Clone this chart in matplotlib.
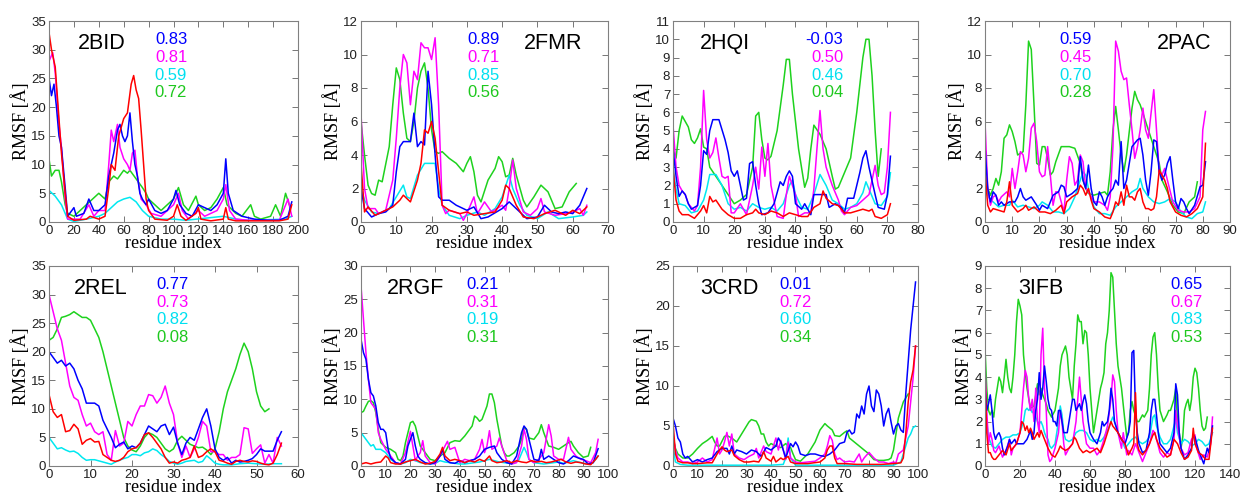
import matplotlib
matplotlib.use("Agg")
import matplotlib.pyplot as plt

# ---------------- data (residue index, RMSF) ----------------
# 2BID
bid_green = [(0,11),(2,8),(5,9),(8,9),(10,7),(13,3),(15,1.5),(20,1),(25,2),(30,3),(35,4),(40,5),(45,4),(48,7),(52,8),(55,7.5),(60,9),(63,8.5),(65,9),(70,7.5),(75,6),(78,5),(80,4),(85,3),(90,2),(95,3),(100,4),(104,6),(108,3),(112,2),(118,4.5),(120,3),(125,2),(130,2.5),(135,4),(140,6),(143,3),(150,1.5),(155,1),(162,3),(165,1),(170,0.5),(178,1),(182,3),(186,1),(190,5),(193,3)]
bid_cyan = [(0,5.5),(5,4.5),(10,3),(15,0.5),(20,0.1),(30,0.5),(40,1),(45,1.5),(50,2.5),(55,3.5),(60,4),(65,4.3),(70,3.5),(75,2),(80,1),(90,0.5),(100,0.5),(110,0.3),(140,1),(150,0.5),(160,0.3),(190,0.5),(195,1)]
bid_magenta = [(0,28),(3,29.5),(5,26),(8,17),(10,13),(13,4),(15,0.5),(20,0.5),(25,0.5),(32,3),(36,1),(40,2),(45,2),(48,10),(50,16),(52,14),(55,17),(57,13),(60,11),(63,10),(65,9),(67,12),(69,12.5),(71,8),(74,4),(78,3),(82,1.5),(90,1),(100,3),(104,5),(107,2),(112,0.5),(120,2),(125,1),(135,2),(140,4),(142,6.5),(145,2),(150,0.5),(160,0.3),(175,0.3),(185,0.3),(192,4),(195,1)]
bid_blue = [(0,25),(2,22),(4,24),(6,20),(8,15),(10,13),(13,6),(15,1),(20,2.5),(22,1),(28,1.5),(32,4),(36,2),(40,2),(45,3),(48,8),(50,10),(52,12),(55,16),(57,17),(59,15),(61,14),(63,15),(65,19),(67,14),(69,10),(71,8),(73,5),(75,4),(78,3),(80,4),(85,2),(90,1.5),(95,2),(100,4),(102,5.5),(105,3),(110,1.5),(115,1),(120,3),(125,2.5),(130,2),(135,3),(140,5),(142,11),(144,5),(148,2),(155,1),(165,0.5),(175,0.3),(185,0.3),(192,1),(195,3.5)]
bid_red = [(0,33),(2,30),(5,27),(8,18),(10,12),(13,5),(15,1),(20,0.3),(30,0.5),(33,1),(40,0.5),(45,1),(48,6),(50,10),(53,9),(56,15),(60,18),(63,19),(66,24),(68,25.5),(70,23),(72,21.5),(74,16),(76,10),(78,4),(80,2),(85,0.5),(95,0.3),(100,1),(103,3),(106,1),(110,0.3),(118,1.5),(120,2.5),(122,0.5),(130,0.2),(140,0.5),(142,2.5),(144,0.5),(150,0.2),(170,0.2),(185,0.2),(192,0.5),(195,3)]

# 2FMR
fmr_green = [(0,6),(1,4),(2,2.2),(3,1.7),(4,1.6),(5,2.5),(6,2.4),(8,4.5),(9,7),(10,9.2),(11,8.5),(12,6.5),(13,5),(14,4.8),(15,6),(16,8),(17,9),(18,9.5),(19,8),(20,5.5),(21,4.2),(22,4.1),(23,4.2),(25,3.8),(27,3.5),(29,3),(30,3.5),(31,3.9),(32,3),(33,1.6),(34,1.2),(36,2.5),(38,3.2),(39,3.9),(40,3.6),(41,2.7),(42,2.8),(43,3.8),(44,2.8),(46,1.3),(47,0.9),(49,1.5),(51,2.2),(53,1.8),(55,0.8),(57,0.9),(59,1.8),(61,2.3)]
fmr_cyan = [(0,2),(1,1.3),(3,0.6),(5,0.5),(8,0.8),(10,1.5),(12,2.2),(13,1.5),(14,1.4),(16,2.8),(18,3.5),(21,3.5),(22,2),(23,1),(25,0.4),(28,0.2),(30,0.4),(33,0.6),(35,0.4),(38,0.8),(40,1.5),(42,2.8),(43,2),(45,1),(47,0.4),(50,0.2),(53,0.6),(56,0.2),(60,0.3),(63,0.4),(64,0.6)]
fmr_magenta = [(0,6.5),(1,2),(2,0.8),(4,0.8),(5,0.5),(7,0.7),(9,2.5),(10,5),(11,8),(12,10),(13,9.5),(14,7),(15,9),(16,8.5),(17,10.7),(18,10.4),(19,10.4),(20,9.7),(21,11),(22,7),(23,1),(24,0.5),(25,0.7),(28,0.5),(29,0.1),(30,0.5),(32,1.5),(33,0.5),(35,1.2),(37,0.6),(40,1),(41,0.7),(42,2),(43,3.7),(44,2),(46,0.6),(48,0.4),(50,0.8),(51,1.4),(52,0.6),(55,0.4),(58,0.5),(60,0.6),(62,0.8),(63,0.4),(64,1)]
fmr_blue = [(0,2),(1,0.8),(3,0.3),(5,0.5),(7,0.6),(9,1),(10,3),(11,4.5),(12,4.8),(14,4.8),(15,6.5),(16,4.5),(17,4.8),(18,4.6),(19,9),(20,7),(21,4),(22,1.5),(23,1.3),(25,1.3),(27,1),(30,0.7),(32,0.9),(34,0.2),(36,0.3),(40,0.8),(42,1.2),(44,0.8),(47,0.2),(50,0.3),(52,1),(54,0.6),(56,0.5),(58,0.6),(60,0.5),(62,1),(64,2)]
fmr_red = [(0,3.5),(1,0.6),(2,0.9),(4,0.4),(6,0.6),(9,0.9),(11,1.3),(12,1.6),(14,1.2),(16,2.5),(17,3.5),(18,5.5),(19,5.3),(20,6),(21,5),(22,3),(23,1),(25,0.7),(28,0.5),(30,0.6),(32,0.4),(35,0.5),(38,0.6),(40,1.3),(41,2.2),(42,2),(44,1),(46,0.3),(49,0.2),(52,0.5),(55,0.7),(58,0.4),(60,0.7),(62,0.5),(64,0.9)]

# 2HQI
hqi_green = [(0,4),(1,3.5),(2,5),(3,5.8),(4,5.5),(5,5.2),(6,4.5),(7,4.3),(8,4.6),(9,5.1),(10,4.1),(11,4),(12,3),(14,2.5),(16,2),(18,1.5),(20,1),(22,1.2),(24,1.5),(26,3),(27,5.8),(28,6),(29,4.5),(30,3.5),(31,3.4),(32,3.6),(34,5),(36,7.5),(37,8.9),(38,8.9),(39,7),(41,4),(43,1.9),(44,2.4),(45,4),(46,5.3),(48,4.8),(50,4),(52,2.5),(53,1.8),(54,1.9),(56,2.7),(58,3.5),(60,6),(62,9),(63,10),(64,10),(65,8),(66,5),(67,2.5),(68,4)]
hqi_cyan = [(0,3),(1,1.8),(2,1),(4,0.9),(6,0.5),(8,0.6),(10,1.2),(11,1.8),(12,2.6),(14,2.6),(16,2),(18,1),(20,0.7),(22,0.8),(24,0.6),(26,1),(28,0.8),(30,0.7),(32,0.8),(34,0.6),(36,1),(38,2),(39,2.3),(40,1.5),(42,0.8),(44,0.7),(46,1.5),(48,2.6),(50,2),(52,1.2),(54,1),(56,0.7),(58,0.8),(60,1),(62,1.6),(63,2.2),(64,1.8),(66,1),(68,0.9),(70,1.4),(71,2.7)]
hqi_magenta = [(0,5.3),(1,3),(2,2),(3,1.7),(4,1.5),(5,1),(7,0.6),(8,0.9),(9,3),(10,7.2),(11,4.5),(12,3.5),(13,3.8),(14,4.6),(15,3.5),(16,2.5),(17,2.4),(18,2.5),(19,0.5),(20,0.5),(22,1),(24,0.4),(26,2),(27,3),(28,1.8),(29,4.1),(30,2.5),(31,4.3),(32,2),(34,0.3),(36,0.2),(37,1.5),(38,2.5),(40,1.5),(41,0.3),(43,0.5),(45,0.5),(46,1.8),(47,4),(48,6.1),(49,4),(50,3),(51,2.5),(52,2),(54,1.2),(55,0.6),(56,0.4),(58,0.8),(60,0.9),(62,1.2),(64,1.5),(66,3.1),(67,2),(68,1.5),(69,1.6),(70,3),(71,6)]
hqi_blue = [(0,4),(1,2.5),(2,1.4),(3,1.7),(4,1.5),(5,1),(6,0.7),(8,0.9),(9,2),(10,3.9),(11,3.7),(12,5),(13,5.6),(15,5.6),(17,4.5),(18,3.8),(19,2.8),(20,2.5),(21,2.8),(22,2),(23,1.2),(24,1.3),(25,3.2),(26,3.3),(27,2),(28,1),(29,0.4),(31,0.5),(33,1),(35,2.2),(36,2),(37,2.5),(38,2.8),(39,2.5),(40,1),(42,0.7),(43,1),(45,0.4),(46,1.5),(48,1.5),(50,1.5),(51,0.8),(53,1),(55,0.8),(56,0.5),(57,1.3),(59,1.3),(60,2),(61,2.7),(62,3.5),(63,3.9),(64,3),(66,1.5),(67,0.8),(69,0.7),(70,1.5),(71,3.6)]
hqi_red = [(0,3),(1,1.2),(2,0.6),(3,0.4),(5,0.4),(7,0.2),(9,0.6),(10,0.9),(11,0.5),(12,1.4),(13,1.1),(14,1.2),(16,0.7),(18,0.4),(20,0.2),(22,0.2),(24,0.4),(26,0.5),(27,0.7),(28,0.5),(30,0.4),(32,0.6),(34,0.5),(36,0.3),(38,0.5),(40,0.4),(42,0.3),(44,0.3),(46,0.8),(48,1),(49,1.7),(50,1.3),(52,1),(54,0.9),(56,0.5),(58,0.5),(60,0.6),(62,0.7),(64,0.6),(65,0.7),(66,0.3),(68,0.2),(70,0.4),(71,1)]

# 2PAC
pac_green = [(0,3),(1,2),(2,1.6),(3,2),(4,2.6),(5,2.2),(6,3),(7,5),(8,5.2),(9,5.8),(10,5.4),(11,4.8),(12,4),(14,4.2),(15,7),(16,10.8),(17,10.3),(18,7),(19,3.5),(20,3.4),(21,4.5),(22,4.5),(23,3.8),(24,2.8),(25,3),(26,3.6),(28,4.5),(31,4.5),(33,4.4),(35,3.5),(36,2.5),(37,2),(38,1.7),(40,1.6),(42,1.7),(44,1.8),(45,1.6),(46,3),(47,5.5),(48,6.9),(49,5.5),(50,4),(51,3),(52,4),(54,6.8),(55,7.8),(56,7.3),(57,7),(58,6.5),(60,5.5),(62,4.5),(64,3.5),(65,2.5),(67,1.8),(69,1),(71,0.6),(73,0.5),(75,1.2),(77,1.5),(78,2.4)]
pac_cyan = [(0,3),(1,1.6),(2,1.3),(3,1.2),(5,0.9),(7,1),(9,1),(10,1.3),(12,0.9),(14,1),(16,0.9),(18,0.8),(20,1),(21,1.2),(23,1),(25,0.6),(27,0.6),(29,0.5),(31,0.8),(33,1.5),(35,2.5),(36,3),(37,2.8),(38,2),(40,0.9),(42,0.5),(44,0.5),(46,0.4),(48,0.9),(50,1.2),(52,1.5),(54,1.8),(56,2),(57,2.6),(58,2),(60,1.5),(62,1.2),(64,1.1),(66,1.2),(68,1.4),(70,1.2),(72,0.6),(74,0.3),(76,0.2),(78,0.5),(80,0.6),(81,1.2)]
pac_magenta = [(0,6),(1,2),(2,1),(3,1.5),(4,1.6),(5,1.2),(6,1.5),(8,1.8),(9,1.5),(10,3.2),(11,2),(12,3),(13,4.2),(14,4),(15,3),(16,3.8),(17,5.6),(18,5.9),(19,4.8),(20,3),(21,2.7),(22,2.8),(23,4.5),(24,2.8),(25,1),(26,1.8),(27,1.8),(28,1.2),(29,0.6),(30,2.5),(31,3.9),(32,3.5),(33,2.2),(34,2.5),(35,4),(36,3.6),(37,2),(38,1.8),(40,1.2),(42,1.2),(44,1),(45,0.7),(46,1.5),(47,4.5),(48,10.8),(49,10.2),(50,9),(51,8.5),(52,8.6),(53,7),(54,5.5),(55,3.8),(56,4.5),(57,5.5),(58,6.8),(59,5.5),(60,5),(61,6.5),(62,7.9),(63,5.5),(64,3),(65,2.8),(66,3.2),(67,2.5),(69,1.2),(71,0.7),(73,0.6),(75,0.6),(77,0.8),(79,1.5),(80,5.5),(81,6.6)]
pac_blue = [(0,4.5),(1,2),(2,1.2),(3,1.8),(4,1.6),(5,1),(6,1.2),(7,1),(9,1.2),(11,1.2),(12,1.5),(13,2),(14,1.5),(15,1.3),(17,1.5),(19,1),(20,0.7),(21,1),(23,0.8),(25,1.6),(27,1.8),(28,2.2),(29,2.1),(30,1.5),(32,1.7),(34,2),(35,3.9),(36,2.5),(37,2),(38,3.4),(39,2),(40,1.2),(41,1),(42,1.8),(43,1.5),(44,1),(45,1.5),(46,1.8),(47,2),(48,2.5),(49,2.2),(50,4.8),(51,2),(52,2.5),(53,3.5),(54,4.5),(56,4.9),(57,5),(58,4),(59,2.5),(60,1.6),(61,3),(62,4.9),(63,4.8),(64,3),(65,2.5),(66,2.8),(67,3.5),(68,3.9),(69,2.5),(70,1.2),(71,0.8),(72,1.4),(73,1.2),(74,0.8),(75,0.5),(77,1),(79,2.1),(80,2.2),(81,3.6)]
pac_red = [(0,3),(1,1),(2,0.6),(3,0.8),(5,0.7),(7,0.6),(8,1.2),(9,2.4),(10,1),(12,0.6),(14,0.8),(15,1),(16,0.7),(18,0.9),(20,0.6),(22,0.6),(24,0.5),(26,0.7),(28,1),(29,0.5),(30,1.2),(32,1.5),(34,1.7),(35,2.2),(36,2),(37,1.6),(38,2),(39,1.3),(40,0.8),(42,0.6),(44,0.3),(46,0.2),(47,0.6),(48,1.2),(49,1),(50,1.8),(51,1),(52,2.2),(53,1.5),(54,1.5),(55,1.3),(56,1.8),(57,2),(58,1.2),(59,0.8),(60,0.8),(61,0.7),(62,0.8),(63,1.5),(64,3.1),(65,2.8),(66,2.5),(67,2),(68,1.2),(70,0.6),(72,0.4),(74,0.3),(76,0.5),(78,0.8),(80,1.5),(81,4.7)]

# 2REL
rel_green = [(0,22),(1,22.5),(2,24),(3,26),(4,26.2),(5,26.5),(6,27),(7,26.5),(8,26),(9,26),(10,25.5),(11,24),(12,22.5),(13,20),(14,17),(15,14),(16,11),(17,8),(18,5),(19,3.5),(20,2.8),(21,2.5),(22,3.5),(23,5),(24,5.8),(25,5.5),(26,5),(27,4),(28,3),(29,2.5),(30,3),(31,4.5),(32,5.2),(33,4.5),(34,3.8),(35,3.5),(36,3.2),(37,3.3),(38,2.8),(39,2),(40,3),(41,6),(42,10),(43,13),(44,15),(45,17),(46,19.5),(47,21.5),(48,20),(49,17),(50,13),(51,10.5),(52,9.5),(53,10)]
rel_cyan = [(0,5),(1,4),(2,3),(3,3.2),(4,2.8),(5,2.5),(6,2.6),(7,2.2),(8,1.5),(9,1),(10,1.1),(11,1.1),(12,0.9),(13,0.7),(14,0.5),(15,0.3),(16,0.7),(17,1),(18,1.3),(19,1.5),(20,2),(21,2),(22,1.8),(23,2.3),(24,2.5),(25,3),(26,2.7),(27,2),(28,1.5),(29,0.8),(30,0.5),(31,0.3),(32,0.5),(33,0.8),(34,0.9),(35,1),(36,0.6),(37,0.8),(38,1.8),(39,1.2),(40,0.5),(41,0.3),(42,0.2),(44,0.2),(46,0.4),(48,0.5),(50,0.4),(52,0.3),(54,0.4),(56,0.4)]
rel_magenta = [(0,30),(1,27),(2,24),(3,22),(4,18),(5,14),(6,12),(7,11.5),(8,9),(9,7),(10,7.5),(11,6),(12,5.5),(13,6),(14,2),(15,1),(16,6.2),(17,3.5),(18,4),(19,7.8),(20,7),(21,9),(22,10.5),(23,10.5),(24,12.5),(25,12.3),(26,11),(27,12),(28,14),(29,11),(30,9),(31,4),(32,1.5),(33,3.5),(34,1.5),(35,3),(36,5),(37,7.8),(38,7),(39,2.5),(40,2.5),(41,2),(42,2),(43,1),(44,1.5),(45,1.5),(46,2),(47,6.7),(48,6.5),(49,2.2),(50,3),(51,3.7),(52,0.5),(53,2),(54,0.5),(55,5),(56,3.5)]
rel_blue = [(0,20),(1,19),(2,18),(3,18.5),(4,17.5),(5,18),(6,17),(7,15),(8,13.5),(9,11),(10,11),(11,11),(12,10.5),(13,8),(14,6.5),(15,5),(16,3.2),(17,3.8),(18,4.2),(19,3),(20,3.5),(21,3.2),(22,4),(23,5.5),(24,7),(25,6.5),(26,6),(27,7),(28,7.3),(29,5.5),(30,6.8),(31,4),(32,2),(33,4),(34,5),(35,4.5),(36,6.5),(37,8.5),(38,10),(39,7),(40,3),(41,1.5),(42,1),(43,1.5),(44,0.5),(45,1),(46,0.7),(47,0.8),(48,1),(49,1.3),(50,2),(51,3),(52,2.6),(53,2.6),(54,2.6),(55,4.5),(56,6)]
rel_red = [(0,12.5),(1,9.5),(2,8.5),(3,9),(4,6),(5,6.2),(6,7.3),(7,6.5),(8,3.8),(9,4.5),(10,4.8),(11,4.2),(12,4.3),(13,2),(14,1.5),(15,1),(16,0.8),(17,1),(18,1.5),(19,2.5),(20,3),(21,3.2),(22,4),(23,5.5),(24,5.8),(25,5),(26,4),(27,3),(28,1.5),(29,0.5),(30,0.7),(31,0.5),(32,1),(33,1.2),(34,1.5),(35,3.5),(36,1.5),(37,1.8),(38,2.5),(39,3),(40,2.5),(41,1),(42,0.8),(43,0.5),(44,0.3),(45,0.8),(46,1),(47,0.8),(48,0.7),(49,0.9),(50,0.8),(51,0.5),(52,0.3),(53,0.2),(54,0.5),(55,2),(56,4)]

# 2RGF
rgf_green = [(0,8),(1,8.2),(2,9),(3,9.7),(4,9.8),(5,9.5),(6,8),(7,5.5),(8,3.5),(10,2.8),(12,2.5),(14,2),(15,1),(16,0.8),(17,1.5),(18,3.5),(19,5),(20,6.5),(21,6.7),(22,6),(23,4.5),(24,3),(26,2),(28,1),(30,0.8),(32,1.5),(34,2),(36,3.5),(38,3.8),(40,3.7),(42,4.5),(44,5.5),(45,6),(46,7.5),(47,7.2),(48,6.7),(49,7),(50,8),(51,9),(52,10.8),(53,10.8),(54,9.5),(55,7),(56,5),(57,3),(58,2),(59,1.5),(60,1.5),(62,2),(64,3),(65,4),(66,5.8),(67,5.5),(68,4.2),(70,4),(72,5),(73,6.2),(74,5),(75,4),(76,3),(78,2.8),(80,2.5),(82,3),(84,3.5),(85,3.7),(86,3),(88,2),(90,1.3),(92,1.5),(93,2.8)]
rgf_cyan = [(0,5),(1,4.5),(2,4),(3,3.5),(4,3),(5,3.2),(6,2.5),(8,2.5),(10,2),(12,1),(14,0.5),(16,0.3),(18,0.5),(20,1),(22,0.8),(24,0.5),(26,0.4),(28,0.3),(30,0.4),(32,0.8),(34,0.6),(36,0.5),(38,0.4),(40,0.3),(42,0.3),(44,0.4),(46,0.5),(48,0.6),(50,0.8),(52,1),(54,0.8),(56,0.6),(58,0.5),(60,0.4),(62,0.4),(64,1),(66,2.8),(67,2),(68,1),(70,0.5),(72,0.4),(74,0.3),(76,0.4),(78,0.5),(80,0.6),(82,0.4),(84,0.6),(86,0.8),(88,0.6),(90,0.4),(92,0.3),(94,0.5),(96,1.5)]
rgf_magenta = [(0,27),(1,22),(2,17),(3,13),(4,9.5),(5,9),(6,8.5),(7,5),(8,4),(10,2.5),(12,1.5),(14,0.5),(16,0.3),(18,2),(20,5.2),(21,3),(22,0.8),(23,1.5),(24,2),(25,3.8),(26,1.5),(28,0.5),(30,0.3),(32,1.5),(34,3),(35,3.7),(36,2.5),(38,2.8),(40,0.5),(42,1),(44,0.8),(46,1),(48,2.5),(49,4),(50,2),(51,3),(52,5.3),(53,2.5),(55,3),(56,4.2),(57,3),(59,0.8),(61,0.3),(63,0.5),(65,3),(66,5.5),(67,4),(68,1),(70,0.5),(72,1),(74,2),(76,6.2),(77,4.5),(78,1.5),(80,1),(82,1),(84,4.3),(85,2.5),(87,1.5),(89,1),(91,0.8),(93,0.5),(95,2),(96,4)]
rgf_blue = [(0,19),(1,17),(2,16),(3,13),(4,11),(5,10.5),(6,9),(7,6.5),(8,5.5),(9,5.5),(10,5),(11,2.5),(12,1.2),(14,0.5),(16,0.3),(18,1),(19,3),(20,4),(21,5),(22,3),(23,1.5),(24,1),(26,0.5),(28,0.3),(30,0.5),(32,1.5),(33,2.5),(34,1),(36,0.5),(38,0.4),(40,0.8),(42,0.5),(44,0.8),(46,1),(48,1.5),(50,2.5),(52,2.8),(54,3),(55,2),(57,1),(59,0.5),(61,0.3),(63,1.5),(65,5),(66,6),(67,5.5),(68,4),(70,1),(72,0.8),(73,2.5),(74,1),(76,1.5),(78,1),(80,0.5),(82,0.3),(84,0.8),(86,1.5),(88,1.2),(90,1),(92,0.3),(94,0.5),(96,2.6)]
rgf_red = [(0,0.3),(2,0.5),(4,0.3),(6,0.5),(8,0.6),(10,1.5),(11,1.2),(12,0.5),(14,0.3),(16,0.3),(18,0.6),(20,0.8),(22,1),(24,0.6),(26,0.3),(28,0.4),(30,0.7),(32,1.8),(33,2.8),(34,1.5),(36,0.8),(38,1),(40,0.8),(42,0.5),(44,0.8),(46,0.6),(48,1),(50,0.7),(52,1.5),(53,0.8),(55,0.5),(57,0.6),(59,0.8),(61,0.5),(63,0.8),(65,0.6),(67,0.5),(69,0.8),(71,0.6),(73,0.7),(75,0.5),(77,0.6),(79,0.8),(81,1),(83,0.6),(85,0.4),(87,0.6),(89,0.5),(91,0.3),(93,0.2),(95,1),(96,1.5)]

# 3CRD
crd_green = [(0,3.5),(1,2.2),(2,1.5),(4,1),(6,1),(8,1.5),(10,2.2),(12,2.8),(14,3.2),(16,3.7),(17,3),(18,2.5),(19,2.5),(21,3.7),(22,3.8),(24,3.5),(26,3),(28,4),(30,5),(31,5.5),(32,5.8),(34,5.6),(35,5),(36,4),(37,4),(38,3),(39,2.5),(40,2.8),(42,2.5),(44,2.3),(46,2.8),(47,2.5),(48,2.3),(49,1.5),(50,0.8),(52,0.6),(55,1.5),(58,3),(60,4.5),(62,5.3),(63,5),(65,4.5),(66,3.8),(68,3.7),(70,4.2),(71,4.4),(72,3.5),(74,3),(76,2.5),(78,2),(80,1.5),(82,0.8),(84,0.7),(86,0.7),(88,0.8),(89,1),(90,2),(91,4),(92,6),(93,7),(94,8),(95,8.5),(96,9)]
crd_cyan = [(0,2.5),(1,0.5),(3,0.2),(6,0.1),(10,0.1),(20,0.1),(30,0.1),(40,0.1),(45,0.2),(46,1),(47,3.5),(48,1),(50,0.1),(60,0.1),(70,0.1),(80,0.1),(90,0.1),(93,0.5),(95,2.5),(96,3.5),(97,4),(98,4.8),(99,5)]
crd_magenta = [(0,4),(1,2),(2,1),(4,0.5),(6,0.5),(8,0.3),(10,0.5),(12,1),(14,0.5),(16,0.8),(18,3.5),(19,1.5),(20,2),(21,3),(22,4.2),(23,2.5),(24,4),(25,1.5),(27,1),(29,0.8),(31,1.2),(33,1.5),(34,2.2),(35,1),(37,2.5),(38,1.8),(40,1.5),(41,2.5),(42,3.5),(43,2),(44,3.2),(45,2),(46,0.8),(47,3),(48,1),(50,0.5),(52,0.4),(55,0.5),(58,0.6),(60,1),(62,1.5),(63,2.5),(64,3.8),(65,3.2),(66,1.5),(67,0.8),(68,1),(70,0.5),(72,0.6),(74,0.5),(76,1.5),(77,0.5),(78,1),(80,1.7),(82,1),(84,0.5),(86,0.5),(88,0.3),(90,0.5),(91,0.4),(92,1.5),(94,2),(95,3.5),(96,5),(97,8),(98,11),(99,15)]
crd_blue = [(0,6),(1,5),(2,3.5),(3,3),(4,1.5),(5,1),(6,1.2),(8,0.5),(10,0.8),(12,0.5),(14,0.8),(16,1),(18,1.8),(20,2.2),(22,2.2),(23,1.5),(24,2.5),(25,1.5),(26,2),(28,1.8),(30,1.5),(32,2),(34,1.8),(36,1.2),(38,2.3),(40,2),(42,2.5),(43,3.5),(44,3),(45,2),(46,1),(48,2.8),(49,2.4),(50,3),(51,2.5),(52,1.5),(54,1.3),(56,1.5),(58,1.5),(60,1.3),(62,1.2),(64,1.5),(66,2),(68,2.8),(70,3),(71,4.2),(72,4.5),(73,4),(74,4.2),(75,6.5),(76,6),(77,7.5),(78,6.5),(79,9),(80,10),(81,7.5),(82,6.8),(83,9.5),(84,9),(85,7.5),(86,5),(87,6.5),(88,7.2),(89,5.5),(90,4),(91,5),(92,5.3),(93,4.5),(94,4.2),(95,9),(96,13),(97,17),(98,20),(99,23)]
crd_red = [(0,5.5),(1,1.5),(2,0.6),(4,0.4),(6,0.4),(8,0.3),(10,0.3),(14,0.4),(16,0.4),(18,1.5),(19,2),(20,2.4),(21,2),(22,1.8),(24,2),(25,1.3),(27,0.8),(29,0.5),(31,0.5),(33,0.6),(35,0.5),(36,1),(37,1.8),(38,1),(40,0.6),(41,1.2),(42,0.5),(44,1),(45,0.8),(47,1.2),(48,0.5),(50,0.3),(55,0.3),(60,0.5),(62,1),(63,2),(64,2.5),(65,2.5),(66,1),(67,0.3),(70,0.3),(75,0.2),(80,0.2),(85,0.2),(90,0.3),(93,0.4),(94,1),(95,4),(96,8),(97,10.5),(98,12),(99,15)]

# 3IFB
ifb_green = [(0,5.3),(1,3.5),(2,2.5),(3,2.3),(4,2.5),(5,2.2),(6,3),(7,3.5),(8,4),(9,3.8),(10,3.3),(11,4),(12,4.8),(13,4),(14,3.5),(15,3.3),(16,4),(17,5),(18,6.5),(19,7.5),(20,7.2),(21,6.8),(22,5),(23,4.2),(24,3.5),(26,2.6),(28,2.7),(30,3.7),(31,3.2),(32,3.5),(33,3.2),(34,3),(35,2.8),(36,2.5),(38,2.2),(40,2.5),(42,3.5),(43,4.5),(44,5),(46,5.4),(47,5),(48,4),(50,3),(51,4.5),(52,5.5),(53,6.8),(54,6.5),(55,6.5),(56,5.5),(57,6.1),(58,6),(59,5),(60,3.5),(61,2.5),(62,1.5),(63,2),(64,2.5),(65,3),(66,3.5),(67,3.8),(68,4.2),(69,5.5),(70,6),(71,7),(72,8.7),(73,8.5),(74,7),(75,5.5),(76,4.5),(78,3.5),(80,2),(81,1.3),(82,1.5),(83,2.5),(84,2.9),(85,2.5),(87,2),(88,2),(90,2.3),(91,2.2),(93,2.5),(94,3.5),(95,5),(96,5.8),(97,6),(98,5),(99,3.5),(100,2.5),(102,2),(104,2.3),(105,2.5),(106,2.5),(108,3),(109,3.5),(110,2),(111,1.5),(112,0.8),(113,1.3),(114,2.5),(115,2.8),(116,3),(117,2.5),(118,3),(119,4),(120,4.4),(121,4.2),(122,3.5),(123,2.5),(124,1.8),(125,1.6),(126,1.7),(127,2.2)]
ifb_cyan = [(0,3.5),(1,2),(2,1.3),(4,0.9),(6,0.8),(8,1),(10,1.2),(12,1.3),(14,1.3),(16,1.4),(18,1.4),(20,1.5),(22,2),(23,2.5),(24,2.6),(25,2.5),(26,2.6),(27,2.4),(28,2.5),(29,2.2),(30,2),(31,1.9),(32,2),(33,1.8),(34,1.5),(35,1.3),(36,1.2),(37,0.9),(38,0.8),(40,1),(42,2),(43,2.7),(44,2.3),(45,1.5),(46,1.2),(48,1.1),(50,1.2),(52,1.5),(54,1.6),(56,1.6),(58,1.5),(60,1.2),(62,1.1),(64,1.2),(66,1.1),(68,1.3),(70,1.6),(72,2),(73,2.2),(74,2),(76,1.5),(78,1.2),(80,0.8),(82,1),(84,1.2),(86,1.3),(88,1.1),(90,1),(92,1.1),(94,1.3),(96,2.2),(97,2.3),(98,1.8),(100,1.3),(102,1),(104,1),(106,1.2),(108,1.8),(109,2.1),(110,1.5),(112,1),(114,1.2),(116,1.1),(118,0.9),(120,1),(122,1.2),(124,1.1),(126,0.9),(128,1),(130,1.5)]
ifb_magenta = [(0,4.5),(1,2.5),(2,1),(3,1.5),(4,1.2),(5,0.7),(6,0.6),(8,0.9),(10,0.4),(12,0.7),(14,1.2),(15,0.5),(16,0.8),(18,1),(20,1.5),(21,2.5),(22,3.5),(23,4.3),(24,4),(25,3),(26,2.5),(27,3),(28,2),(29,3.5),(30,2),(31,1.5),(32,5),(33,6.2),(34,3.5),(35,2.5),(36,0.5),(37,0.2),(38,0.3),(40,0.8),(42,1.5),(43,2.5),(44,2),(45,1),(46,0.5),(48,0.8),(50,1),(52,2),(53,3),(54,4),(55,3),(56,2),(57,1.5),(58,1),(60,0.8),(62,0.8),(64,0.5),(66,0.7),(68,1.2),(70,1.8),(72,3),(73,4.1),(74,3.8),(75,2.5),(76,1.5),(78,0.8),(79,1.5),(80,1),(81,0.5),(82,0.7),(84,0.5),(86,1),(88,0.6),(90,0.2),(92,0.6),(94,1),(96,1.6),(97,1.5),(98,1.2),(100,0.6),(102,0.4),(104,0.6),(106,0.5),(108,1.2),(109,2.5),(110,1.8),(112,0.8),(114,0.5),(116,0.6),(118,1.2),(120,1.4),(121,0.8),(123,0.3),(125,0.5),(127,0.4),(129,1),(130,2.2)]
ifb_blue = [(0,3.5),(1,2.5),(2,2.8),(3,3.2),(4,2.5),(5,1.5),(6,1.2),(7,1.4),(8,1.5),(9,1.3),(10,0.8),(11,0.5),(12,0.7),(13,0.9),(14,1.2),(15,1),(17,1.2),(18,1),(20,1),(22,1),(24,1.2),(26,1.6),(27,1.2),(28,1.5),(29,2.5),(30,3),(31,4.2),(32,3),(33,3.5),(34,4.5),(35,3.8),(36,3),(37,2.6),(38,2.5),(39,2),(40,2),(41,1.8),(42,2.5),(43,2.5),(44,2),(45,1.5),(47,1.5),(49,2.5),(50,3),(51,3),(52,2.5),(54,2.8),(55,2.5),(56,2.9),(57,3.2),(58,2.8),(59,2),(60,1.5),(62,1.2),(64,1),(66,1.5),(67,2),(68,1.8),(70,2),(71,2.5),(72,3.5),(73,3),(74,2),(76,1.5),(78,1.2),(80,1),(82,1.5),(83,2),(84,5.1),(85,5.2),(86,2.5),(87,1.5),(88,1),(90,0.6),(92,0.7),(94,1.5),(95,2.5),(96,3),(97,3),(98,2.3),(99,1.5),(100,1),(102,0.8),(104,0.6),(106,0.8),(108,1.5),(109,3.7),(110,3.2),(111,1.5),(112,0.8),(114,0.3),(116,0.5),(118,0.8),(119,1.4),(120,1.3),(122,0.7),(124,0.3),(125,0.1),(127,0.8),(128,0.6),(130,1.8)]
ifb_red = [(0,4.1),(1,1.5),(2,0.6),(3,0.6),(4,0.4),(5,0.3),(6,0.3),(8,0.5),(10,0.7),(12,0.5),(14,1),(15,0.7),(16,0.8),(18,1),(20,1.5),(21,2),(22,1.9),(23,1.6),(24,1.8),(25,1.5),(26,1.7),(27,1.5),(28,1.2),(30,1.5),(31,1.3),(32,1.6),(34,1.2),(36,0.8),(38,0.5),(40,0.4),(42,0.7),(43,0.9),(44,0.8),(46,0.7),(48,0.8),(50,1),(51,1.3),(52,1.2),(54,0.8),(56,0.6),(58,0.7),(60,0.6),(62,0.7),(64,0.8),(66,0.6),(68,1),(70,1.5),(72,2),(73,1.8),(74,1.7),(76,1.5),(78,1.2),(80,1),(82,0.5),(84,0.8),(85,1),(86,3.3),(87,1),(88,0.7),(90,0.5),(92,0.7),(94,1),(96,1.4),(97,1.5),(98,1.2),(100,0.8),(102,0.6),(104,0.4),(106,0.5),(108,1.2),(110,1),(112,0.6),(114,0.3),(116,0.4),(118,0.7),(119,1.7),(120,1),(122,0.6),(124,0.5),(126,0.3),(128,0.3),(130,1.7)]

# panel names, correlation values (blue, magenta, cyan, green), axis limits
names = ["2BID", "2FMR", "2HQI", "2PAC", "2REL", "2RGF", "3CRD", "3IFB"]
corr = [["0.83", "0.81", "0.59", "0.72"],
        ["0.89", "0.71", "0.85", "0.56"],
        ["-0.03", "0.50", "0.46", "0.04"],
        ["0.59", "0.45", "0.70", "0.28"],
        ["0.77", "0.73", "0.82", "0.08"],
        ["0.21", "0.31", "0.19", "0.31"],
        ["0.01", "0.72", "0.60", "0.34"],
        ["0.65", "0.67", "0.83", "0.53"]]
xmax = [200, 70, 80, 90, 60, 100, 100, 140]
xstep = [20, 10, 10, 10, 10, 10, 10, 20]
ymax = [35, 12, 11, 12, 35, 30, 25, 9]
ystep = [5, 2, 1, 2, 5, 5, 5, 1]

series = [
    [bid_green, bid_cyan, bid_magenta, bid_blue, bid_red],
    [fmr_green, fmr_cyan, fmr_magenta, fmr_blue, fmr_red],
    [hqi_green, hqi_cyan, hqi_magenta, hqi_blue, hqi_red],
    [pac_green, pac_cyan, pac_magenta, pac_blue, pac_red],
    [rel_green, rel_cyan, rel_magenta, rel_blue, rel_red],
    [rgf_green, rgf_cyan, rgf_magenta, rgf_blue, rgf_red],
    [crd_green, crd_cyan, crd_magenta, crd_blue, crd_red],
    [ifb_green, ifb_cyan, ifb_magenta, ifb_blue, ifb_red],
]

# ---------------- layout ----------------
W, H = 1243, 495
line_colors = ["#1ed21e", "#00e8f0", "#ff00ff", "#0000ff", "#ff0000"]
corr_colors = ["#0000ff", "#ff00ff", "#00e0f0", "#1ec81e"]
lefts = [49, 361, 673, 985]
widths = [249, 247, 245, 245]
rows = [(21, 222), (266, 466)]
name_x = [0.115, 0.66, 0.11, 0.70, 0.10, 0.105, 0.11, 0.135]
corr_x = [0.555, 0.56, 0.695, 0.435, 0.56, 0.558, 0.567, 0.89]

fig = plt.figure(figsize=(W / 100, H / 100), dpi=100)

for i in range(8):
    r, c = divmod(i, 4)
    top, bot = rows[r]
    ax = fig.add_axes([lefts[c] / W, 1 - bot / H, widths[c] / W, (bot - top) / H])
    for data, col in zip(series[i], line_colors):
        xs = [p[0] for p in data]
        ys = [p[1] for p in data]
        ax.plot(xs, ys, color=col, lw=1.1)
    ax.set_xlim(0, xmax[i])
    ax.set_ylim(0, ymax[i])
    ax.set_xticks(range(0, xmax[i] + 1, xstep[i]))
    ax.set_yticks(range(0, ymax[i] + 1, ystep[i]))
    ax.tick_params(direction="in", top=True, right=True, length=4, width=0.6,
                   color="#606060", labelsize=9.5, pad=2, labelcolor="#202020")
    for lab in ax.get_xticklabels() + ax.get_yticklabels():
        lab.set_fontfamily("Liberation Sans")
    for s in ax.spines.values():
        s.set_color("#808080")
        s.set_linewidth(0.8)
    ax.set_xlabel("residue index", family="Liberation Serif", fontsize=13, labelpad=-1)
    ax.set_ylabel("RMSF [Å]", family="Liberation Serif", fontsize=13, labelpad=1)
    ax.text(name_x[i], 0.89, names[i], transform=ax.transAxes, ha="left", va="center",
            family="Liberation Sans", fontsize=15.5)
    for k in range(4):
        ax.text(corr_x[i], 0.907 - k * 0.088, corr[i][k], transform=ax.transAxes,
                ha="right", va="center", color=corr_colors[k],
                family="Liberation Sans", fontsize=12)

fig.savefig("out.png", dpi=100)
